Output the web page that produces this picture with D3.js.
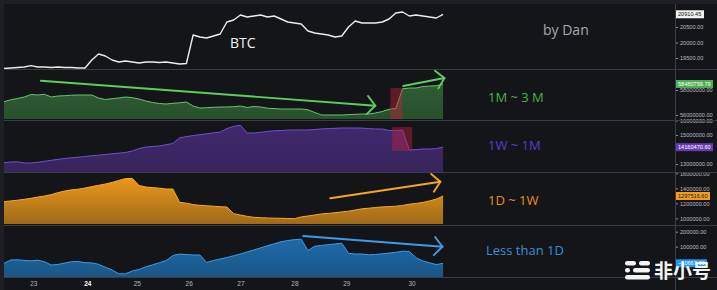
<!DOCTYPE html>
<html>
<head>
<meta charset="utf-8">
<script src="https://cdn.jsdelivr.net/npm/d3@7"></script>
<style>
  html, body { margin: 0; padding: 0; background: #1d1f24; }
  svg { display: block; }
</style>
</head>
<body>
<svg id="chart" width="717" height="290"></svg>
<script>
// x axis: hours since start of the data, one sample every 3 hours
const stepHours = 3;
const dayLabels = ['23', '24', '25', '26', '27', '28', '29', '30'];
const dayHours = [13, 37, 59, 82, 105, 129, 152, 181];

const btc = [19161, 19177, 19194, 19210, 19252, 19210, 19210, 19194, 19210, 19194, 19194, 19177, 19177,
  19435, 19629, 19565, 19435, 19371, 19403, 19371, 19339, 19371, 19371, 19355, 19371, 19339, 19306, 19323,
  20242, 20177, 20145, 20210, 20274, 20661, 20726, 20887, 20823, 20855, 20887, 20823, 20855, 20758, 20661,
  20629, 20597, 20371, 20306, 20274, 20242, 20177, 20210, 20500, 20694, 20629, 20629, 20629, 20661, 20758,
  20952, 20984, 20855, 20887, 20855, 20823, 20790, 20910.45];

const m1to3m = [57064000, 57216000, 57320000, 57440000, 57640000, 57600000, 57656000, 57440000, 57520000,
  57544000, 57584000, 57600000, 57600000, 57600000, 57360000, 57240000, 57304000, 57360000, 57440000,
  57384000, 57280000, 57120000, 57000000, 56920000, 56880000, 56936000, 56976000, 57040000, 56720000,
  56560000, 56584000, 56616000, 56640000, 56640000, 56664000, 56720000, 56600000, 56680000, 56640000,
  56544000, 56512000, 56480000, 56480000, 56480000, 56480000, 56416000, 56200000, 56000000, 56000000,
  56000000, 56000000, 56032000, 56056000, 56080000, 56080000, 56160000, 56280000, 56456000, 56528000,
  58096000, 58160000, 58160000, 58280000, 58320000, 58336000, 58480799.79];

const w1to1m = [13089700, 13137900, 13151700, 13069000, 13069000, 13117200, 13186200, 13255200, 13324100,
  13379300, 13427600, 13469000, 13517200, 13565500, 13606900, 13655200, 13703400, 13751700, 13793100,
  13896600, 14069000, 14172400, 14206900, 14241400, 14324100, 14420700, 14806900, 14889700, 14958600,
  15020700, 15082800, 15144800, 15206900, 15441400, 15600000, 15675900, 15137900, 15137900, 15186200,
  15248300, 15289700, 15310300, 15337900, 15344800, 15344800, 15344800, 15379300, 15420700, 15441400,
  15462100, 15482800, 15482800, 15482800, 15475900, 15441400, 15413800, 15413800, 15310300, 15303400,
  15331000, 13965500, 13993100, 14034500, 14034500, 14062100, 14160470.60];

const d1to1w = [1221333, 1232000, 1241333, 1253333, 1266667, 1282667, 1297333, 1316000, 1342667, 1364000,
  1380000, 1388000, 1404000, 1422667, 1440000, 1457333, 1478667, 1505333, 1529333, 1532000, 1437333,
  1417333, 1409333, 1401333, 1390667, 1390667, 1213333, 1201333, 1182667, 1173333, 1166667, 1161333,
  1154667, 1150667, 1061333, 1044000, 1025333, 1013333, 1008000, 1004000, 1001333, 1000000, 997333,
  994667, 1018667, 1030667, 1044000, 1058667, 1065333, 1074667, 1085333, 1094667, 1110667, 1126667,
  1134667, 1144000, 1152000, 1156000, 1161333, 1170667, 1188000, 1198667, 1212000, 1232000, 1256000,
  1297516.60];

const lt1d = [-10667, 11333, 12667, 8667, 5333, 10000, -667, -22000, -18000, -8667, 0, 1333, -6667, -8000,
  -17333, -36667, -55333, -80667, -80667, -62000, -51333, -34000, -20667, -6667, 7333, 41333, 51333,
  47333, 44667, 44667, -5333, 8000, 18000, 28000, 40000, 51333, 65333, 78000, 92667, 106000, 119333,
  132667, 141333, 147333, 150000, 74667, 103333, 108667, 113333, 118000, 123333, 56000, 51333, 51333,
  46000, 48000, 52667, 57333, 62667, 70000, 68000, 26000, 5333, -7333, -19333, -10667];

const btcTicks = [19500, 20000, 20500];
const m1to3mTicks = [58000000, 56000000];
const w1to1mTicks = [16000000, 15000000, 13000000];
const d1to1wTicks = [1600000, 1400000, 1200000, 1000000];
const lt1dTicks = [200000, 100000];

// annotations, in [hour, value]
const arrows = [
  { pane: 1, from: [16.4, 58744000], to: [164.9, 56744000], color: '#5ccf5c' },
  { pane: 1, from: [177.3, 58320000], to: [195.6, 58960000], color: '#5ccf5c' },
  { pane: 3, from: [144.9, 1266667], to: [193.8, 1488000], color: '#f5a623' },
  { pane: 4, from: [132.9, 171333], to: [194.7, 100000], color: '#3d9be9' }
];
const highlights = [
  { pane: 1, from: [171.6, 58160000], to: [176.9, 55680000] },
  { pane: 2, from: [172.4, 15550000], to: [181.3, 13900000] }
];

const W = 717, H = 290;
const plotLeft = 4, plotRight = 675;
const svg = d3.select('#chart');
const axisFont = '5.6px "Liberation Sans", sans-serif';

svg.append('rect').attr('x', plotLeft).attr('y', 4).attr('width', W - plotLeft).attr('height', H - 4)
  .attr('fill', '#141519');

const x = d3.scaleLinear().domain([0, 298]).range([plotLeft, plotRight]);

const panes = [
  { data: btc, top: 4, bottom: 69, domain: [19145, 21242], ticks: btcTicks, line: '#ececec', type: 'line',
    box: '#f0f0f0', boxText: '#131417', label: 'BTC', labelX: 230, labelY: 48, labelColor: '#f2f2f2', labelSize: 14 },
  { data: m1to3m, top: 70, bottom: 119, domain: [55680000, 59600000], ticks: m1to3mTicks, line: '#6cc46c',
    fill: ['rgba(76,175,80,0.5)', 'rgba(76,175,80,0.38)'], box: '#4caf50', boxText: '#ffffff',
    label: '1M ~ 3 M', labelX: 488, labelY: 102, labelColor: '#4caf50', labelSize: 13 },
  { data: w1to1m, top: 121, bottom: 172, domain: [12448300, 15965500], ticks: w1to1mTicks, line: '#6f50cf',
    fill: ['rgba(103,58,183,0.55)', 'rgba(103,58,183,0.42)'], box: '#673ab7', boxText: '#ffffff',
    label: '1W ~ 1M', labelX: 488, labelY: 150, labelColor: '#5c3fc4', labelSize: 13 },
  { data: d1to1w, top: 173, bottom: 224, domain: [924000, 1604000], ticks: d1to1wTicks, line: '#f7a827',
    fill: ['rgba(245,157,26,1)', 'rgba(245,157,26,0.62)'], box: '#f59d1a', boxText: '#1a1a1a',
    label: '1D ~ 1W', labelX: 488, labelY: 205, labelColor: '#e8901e', labelSize: 13 },
  { data: lt1d, top: 226, bottom: 277, domain: [-102000, 238000], ticks: lt1dTicks, line: '#3d9be9',
    fill: ['rgba(33,150,243,0.72)', 'rgba(33,150,243,0.5)'], box: '#2196f3', boxText: '#ffffff',
    label: 'Less than 1D', labelX: 486, labelY: 255, labelColor: '#3b8fd8', labelSize: 13 }
];

const defs = svg.append('defs');
const fmt = d3.format('.2f');

panes.forEach((p, k) => {
  p.y = d3.scaleLinear().domain(p.domain).range([p.bottom, p.top]);
  const g = svg.append('g');
  const pts = p.data.map((v, i) => [i * stepHours, v]);

  if (p.type === 'line') {
    g.append('path')
      .attr('d', d3.line().x(d => x(d[0])).y(d => p.y(d[1]))(pts))
      .attr('fill', 'none').attr('stroke', p.line).attr('stroke-width', 1.4)
      .attr('stroke-linejoin', 'round');
  } else {
    const gid = 'grad' + k;
    const grad = defs.append('linearGradient').attr('id', gid)
      .attr('gradientUnits', 'userSpaceOnUse').attr('x1', 0).attr('x2', 0)
      .attr('y1', p.top).attr('y2', p.bottom);
    grad.append('stop').attr('offset', '0%').attr('stop-color', p.fill[0]);
    grad.append('stop').attr('offset', '100%').attr('stop-color', p.fill[1]);
    g.append('path')
      .attr('d', d3.area().x(d => x(d[0])).y0(p.bottom).y1(d => p.y(d[1]))(pts))
      .attr('fill', `url(#${gid})`);
    g.append('path')
      .attr('d', d3.line().x(d => x(d[0])).y(d => p.y(d[1]))(pts))
      .attr('fill', 'none').attr('stroke', p.line).attr('stroke-width', 1);
  }

  // right axis
  const ax = svg.append('g').attr('transform', `translate(${plotRight},0)`)
    .call(d3.axisRight(p.y).tickValues(p.ticks).tickSize(3).tickPadding(2).tickFormat(fmt));
  ax.select('.domain').remove();
  ax.selectAll('line').attr('stroke', '#8a8d96');
  ax.selectAll('text').attr('fill', '#b9bcc4').style('font', axisFont);

  // last value box
  const last = p.data[p.data.length - 1];
  const by = p.y(last);
  const txt = fmt(last);
  const bw = txt.length * 3 + 4;
  svg.append('rect').attr('x', plotRight + 1).attr('y', by - 4).attr('width', bw).attr('height', 8)
    .attr('fill', p.box);
  svg.append('text').attr('x', plotRight + 3).attr('y', by + 2).text(txt)
    .attr('fill', p.boxText).style('font', axisFont);

  // pane label
  svg.append('text').attr('x', p.labelX).attr('y', p.labelY).text(p.label)
    .attr('fill', p.labelColor)
    .style('font', `${p.labelSize}px "Open Sans", sans-serif`);
});

// highlight boxes
highlights.forEach(h => {
  const y = panes[h.pane].y;
  svg.append('rect')
    .attr('x', x(h.from[0])).attr('width', x(h.to[0]) - x(h.from[0]))
    .attr('y', y(h.from[1])).attr('height', y(h.to[1]) - y(h.from[1]))
    .attr('fill', 'rgba(190,30,60,0.45)');
});

// trend arrows
arrows.forEach(a => {
  const y = panes[a.pane].y;
  const x1 = x(a.from[0]), y1 = y(a.from[1]), x2 = x(a.to[0]), y2 = y(a.to[1]);
  const ang = Math.atan2(y1 - y2, x1 - x2);
  const g = svg.append('g').attr('stroke', a.color).attr('stroke-width', 1.9)
    .attr('fill', 'none').attr('stroke-linecap', 'round');
  g.append('line').attr('x1', x1).attr('y1', y1).attr('x2', x2).attr('y2', y2);
  [-0.85, 0.85].forEach(d => {
    g.append('line').attr('x1', x2).attr('y1', y2)
      .attr('x2', x2 + 12 * Math.cos(ang + d)).attr('y2', y2 + 12 * Math.sin(ang + d));
  });
});

svg.append('text').attr('x', 543).attr('y', 35).text('by Dan')
  .attr('fill', '#a7a9ad').style('font', '14px "Open Sans", sans-serif');

// pane separators
panes.slice(1).forEach(p => {
  svg.append('line').attr('x1', plotLeft).attr('x2', W).attr('y1', p.top - 0.5).attr('y2', p.top - 0.5)
    .attr('stroke', '#3a3d44').attr('stroke-width', 1.2);
});
svg.append('line').attr('x1', plotLeft).attr('x2', W).attr('y1', 277.5).attr('y2', 277.5)
  .attr('stroke', '#3a3d44');
svg.append('line').attr('x1', plotRight + 0.5).attr('x2', plotRight + 0.5).attr('y1', 4).attr('y2', H)
  .attr('stroke', '#3a3d44');

// bottom axis
const xa = svg.append('g').attr('transform', 'translate(0,278)')
  .call(d3.axisBottom(x).tickValues(dayHours).tickSize(0).tickPadding(3)
    .tickFormat((d, i) => dayLabels[i]));
xa.select('.domain').remove();
xa.selectAll('text').attr('fill', '#b2b5be').style('font', '6.5px "Liberation Sans", sans-serif')
  .filter((d, i) => dayLabels[i] === '24').attr('fill', '#ffffff').style('font-weight', 'bold');

// watermark
const wm = svg.append('g').attr('fill', '#ffffff').attr('opacity', 0.95);
[[625, 261, 11], [639, 261, 11], [625, 268, 5], [633, 268, 17], [625, 275, 25]].forEach(r => {
  wm.append('rect').attr('x', r[0]).attr('y', r[1]).attr('width', r[2]).attr('height', 4.5).attr('rx', 2.2);
});
wm.append('text').attr('x', 654).attr('y', 278).text('非小号')
  .style('font', 'bold 19px "Noto Sans CJK SC", sans-serif');
</script>
</body>
</html>
